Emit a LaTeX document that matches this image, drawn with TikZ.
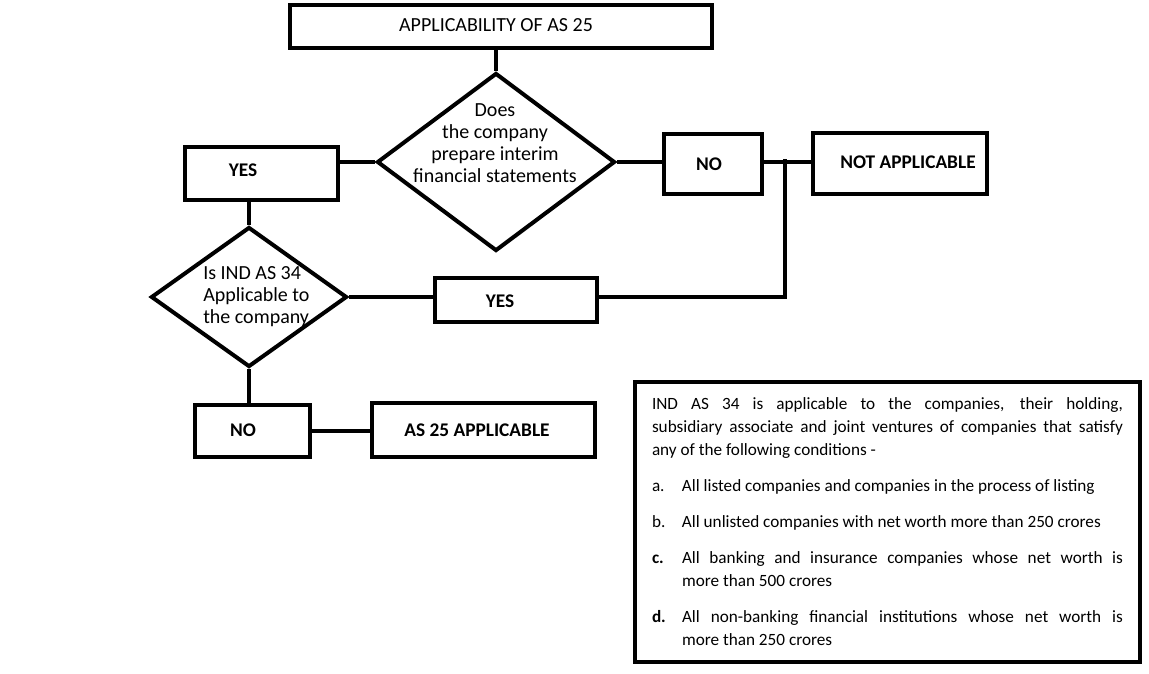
\documentclass[tikz,border=0pt]{standalone}
\usepackage{fontspec}
\setmainfont{Carlito}
\usetikzlibrary{shapes.geometric}

\begin{document}
\begin{tikzpicture}[x=0.75pt,y=0.75pt,yscale=-1,xscale=1,
  flowbox/.style={draw, line width=3pt, inner sep=0pt},
  decision/.style={draw, diamond, line width=3pt, inner sep=0pt},
  boxtext/.style={inner sep=0.75pt, font=\fontsize{14.5}{16.5}\selectfont\bfseries},
  qtext/.style={inner sep=0.75pt, font=\fontsize{15}{16.5}\selectfont},
  link/.style={line width=3pt}]
\useasboundingbox (0,0) rectangle (1149,674); %set diagram size, 1149 x 674

%Shape: Rectangle [title]
\node [flowbox, minimum width=316.5pt, minimum height=32.25pt] (title) at (501,26.5) {};
%Shape: Diamond [first question]
\node [decision, minimum width=178.5pt, minimum height=133.5pt] (q1) at (496,162) {};
%Shape: Rectangle [yes, first question]
\node [flowbox, minimum width=114.75pt, minimum height=39.75pt] (yes1) at (261.5,173.5) {};
%Shape: Rectangle [no, first question]
\node [flowbox, minimum width=73.5pt, minimum height=45pt] (no1) at (713,164) {};
%Shape: Rectangle [not applicable]
\node [flowbox, minimum width=130.5pt, minimum height=45.75pt] (notapp) at (900,163.5) {};
%Shape: Diamond [second question]
\node [decision, minimum width=147pt, minimum height=105pt] (q2) at (249,297) {};
%Shape: Rectangle [yes, second question]
\node [flowbox, minimum width=121.5pt, minimum height=33pt] (yes2) at (516,300) {};
%Shape: Rectangle [no, second question]
\node [flowbox, minimum width=86.25pt, minimum height=39pt] (no2) at (252.5,431) {};
%Shape: Rectangle [as 25 applicable]
\node [flowbox, minimum width=167.25pt, minimum height=40.5pt] (as25) at (483.5,430) {};
\coordinate (jn) at (785,159);

%Straight Lines
\draw [link] (title.south -| q1.north) -- (q1.north);
%Straight Lines
\draw [link] (q1.west) -- (q1.west -| yes1.east);
%Straight Lines
\draw [link] (q1.east) -- (q1.east -| no1.west);
%Straight Lines
\draw [link] (q1.east -| no1.east) -- (q1.east -| notapp.west);
%Straight Lines
\draw [link] (q2.north |- yes1.south) -- (q2.north);
%Straight Lines
\draw [link] (q2.east) -- (q2.east -| yes2.west);
%Straight Lines
\draw [link] (jn) -- (jn |- q2.east) -- (q2.east -| yes2.east);
%Straight Lines
\draw [link] (q2.south) -- (q2.south |- no2.north);
%Straight Lines
\draw [link] (no2.east) -- (no2.east -| as25.west);

% Text Node
\node [qtext] (title-t) at (496,25) {APPLICABILITY OF AS 25};
% Text Node
\node [qtext, align=center] (q1-t) at (495,143) {Does\\the company\\prepare interim\\financial statements};
% Text Node
\node [boxtext] (yes1-t) at (243,170) {YES};
% Text Node
\node [boxtext] (no1-t) at (709,164) {NO};
% Text Node
\node [boxtext] (notapp-t) at (908,162) {NOT APPLICABLE};
% Text Node
\node [qtext, align=left, anchor=west] (q2-t) at (202,297) {Is IND AS 34\\Applicable to\\the company};
% Text Node
\node [boxtext] (yes2-t) at (500,301) {YES};
% Text Node
\node [boxtext] (no2-t) at (243,430) {NO};
% Text Node
\node [boxtext] (as25-t) at (477,430) {AS 25 APPLICABLE};

% Text Node [conditions]
\node [flowbox, minimum width=378.75pt, minimum height=210pt, text width=353.25pt, inner xsep=12.75pt,
  align=justify, font=\fontsize{12.9}{17.25}\selectfont] (info) at (887.5,522) {%
\setlength{\parskip}{9.75pt}\setlength{\parindent}{0pt}\hyphenpenalty=10000\exhyphenpenalty=10000\emergencystretch=2em
IND AS 34 is applicable to the companies, their holding,\linebreak
subsidiary associate and joint ventures of companies that satisfy\linebreak
any of the following conditions -\par
\hangindent=22.5pt\hangafter=1\makebox[22.5pt][l]{a.}All listed companies and companies in the process of listing\par
\hangindent=22.5pt\hangafter=1\makebox[22.5pt][l]{b.}All unlisted companies with net worth more than 250 crores\par
\hangindent=22.5pt\hangafter=1\makebox[22.5pt][l]{\bfseries c.}All banking and insurance companies whose net worth is\linebreak
more than 500 crores\par
\hangindent=22.5pt\hangafter=1\makebox[22.5pt][l]{\bfseries d.}All non-banking financial institutions whose net worth is\linebreak
more than 250 crores\par};

\end{tikzpicture}
\end{document}
